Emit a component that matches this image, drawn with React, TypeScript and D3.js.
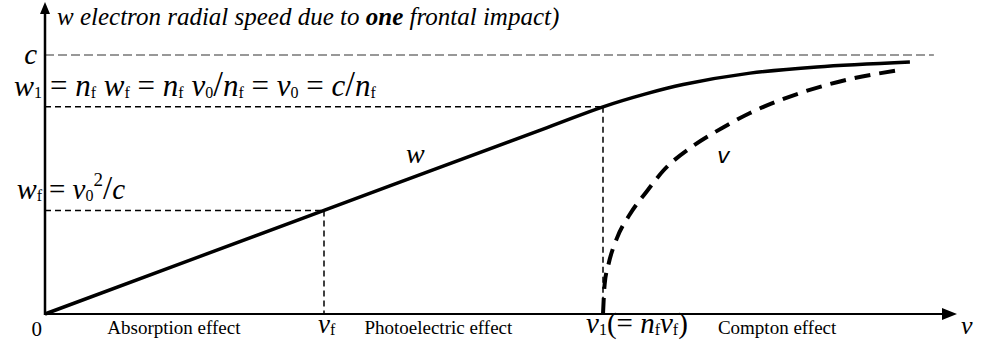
import React from 'react';
import * as d3 from 'd3';

// frequency units: nu_f = 1, nu_1 = n_f * nu_f = 2 ; speed units: c = 1
const nuF = 1;
const nu1 = 2;
const speedC = 1;
const speedW1 = 0.8;
const speedWf = 0.4;
const nuMaxC = 3.186;

const wPoints: [number, number][] = [
  [0, 0], [1, 0.4], [1.8, 0.72], [2, 0.8], [2.15, 0.849], [2.287, 0.886], [2.527, 0.93], [2.767, 0.954], [3.1, 0.973],
];
const vPoints: [number, number][] = [
  [2.0, 0], [2.006, 0.116], [2.02, 0.193], [2.05, 0.293], [2.097, 0.386], [2.158, 0.475], [2.215, 0.552],
  [2.323, 0.649], [2.409, 0.707], [2.527, 0.776], [2.706, 0.853], [2.885, 0.907], [3.065, 0.942],
];
const regionLabels = [
  { text: 'Absorption effect', nu: 0.462 },
  { text: 'Photoelectric effect', nu: 1.41 },
  { text: 'Compton effect', nu: 2.624 },
];

const serif = '"Liberation Serif", "Times New Roman", serif';

export default function App() {
  const x = d3.scaleLinear().domain([0, 1]).range([45, 324]);
  const y = d3.scaleLinear().domain([0, 1]).range([314, 55]);
  const line = d3.line<[number, number]>().x(d => x(d[0])).y(d => y(d[1])).curve(d3.curveCatmullRom.alpha(0.5));
  const vLine = d3.line<[number, number]>().x(d => x(d[0])).y(d => y(d[1])).curve(d3.curveMonotoneX);
  const x0 = x(0), y0 = y(0);
  const S = 16; // subscript size
  return (
    <svg width={986} height={343} style={{ position: 'absolute', left: 0, top: 0, background: '#fff' }}>
      {/* reference lines */}
      <line x1={x0} x2={x(nuMaxC)} y1={y(speedC)} y2={y(speedC)} stroke="#777" strokeWidth={1.3} strokeDasharray="9,4" />
      <line x1={x0} x2={x(nu1)} y1={y(speedW1)} y2={y(speedW1)} stroke="#000" strokeWidth={1.5} strokeDasharray="6,4" />
      <line x1={x0} x2={x(nuF)} y1={y(speedWf)} y2={y(speedWf)} stroke="#000" strokeWidth={1.5} strokeDasharray="6,4" />
      <line x1={x(nuF)} x2={x(nuF)} y1={y(speedWf)} y2={y0} stroke="#000" strokeWidth={1.5} strokeDasharray="6,4" />
      <line x1={x(nu1)} x2={x(nu1)} y1={y(speedW1)} y2={y0} stroke="#000" strokeWidth={1.5} strokeDasharray="6,4" />
      {/* curves */}
      <path d={line(wPoints) || ''} fill="none" stroke="#000" strokeWidth={3.5} />
      <path d={vLine(vPoints) || ''} fill="none" stroke="#000" strokeWidth={4} strokeDasharray="16,9" />
      {/* axes */}
      <line x1={x0} x2={x0} y1={y0 + 1} y2={12} stroke="#000" strokeWidth={2.5} />
      <polygon points={`${x0},2 ${x0 - 5},14 ${x0 + 5},14`} fill="#000" />
      <line x1={x0 - 1} x2={945} y1={y0} y2={y0} stroke="#000" strokeWidth={2} />
      <polygon points={`957,${y0} 942,${y0 - 6} 942,${y0 + 6}`} fill="#000" />

      {/* title */}
      <text x={57} y={25} fontFamily={serif} fontStyle="italic" fontSize={25}>
        w electron radial speed due to <tspan fontWeight="bold">one</tspan> frontal impact)
      </text>
      {/* y labels */}
      <text x={37} y={64} textAnchor="end" fontFamily={serif} fontStyle="italic" fontSize={29}>c</text>
      <text x={42} y={96} textAnchor="end" fontFamily={serif} fontStyle="italic" fontSize={30}>
        w<tspan fontStyle="normal" fontSize={S} dy={2}>1</tspan>
      </text>
      <text x={42} y={199} textAnchor="end" fontFamily={serif} fontStyle="italic" fontSize={30}>
        w<tspan fontStyle="normal" fontSize={S} dy={2}>f</tspan>
      </text>
      <text x={50} y={96} fontFamily={serif} fontSize={31}>
        <tspan>= </tspan>
        <tspan fontStyle="italic">n</tspan><tspan fontSize={S} dy={2}>f</tspan>
        <tspan dy={-2} fontStyle="italic"> w</tspan><tspan fontSize={S} dy={2}>f</tspan>
        <tspan dy={-2}> = </tspan>
        <tspan fontStyle="italic">n</tspan><tspan fontSize={S} dy={2}>f</tspan>
        <tspan dy={-2} fontStyle="italic"> v</tspan><tspan fontSize={S} dy={2}>0</tspan>
        <tspan dy={-2} fontSize={35}>/</tspan>
        <tspan fontStyle="italic">n</tspan><tspan fontSize={S} dy={2}>f</tspan>
        <tspan dy={-2}> = </tspan>
        <tspan fontStyle="italic">v</tspan><tspan fontSize={S} dy={2}>0</tspan>
        <tspan dy={-2}> = </tspan>
        <tspan fontStyle="italic">c</tspan>
        <tspan fontSize={35}>/</tspan>
        <tspan fontStyle="italic">n</tspan><tspan fontSize={S} dy={2}>f</tspan>
      </text>
      <text x={49} y={199} fontFamily={serif} fontSize={29}>
        <tspan>= </tspan>
        <tspan fontStyle="italic">v</tspan><tspan fontSize={S} dy={2}>0</tspan>
        <tspan fontSize={19} dy={-15}>2</tspan>
        <tspan dy={13} fontSize={33}>/</tspan>
        <tspan fontStyle="italic">c</tspan>
      </text>
      {/* curve labels */}
      <text x={406} y={163} fontFamily={serif} fontStyle="italic" fontSize={28}>w</text>
      <text x={717} y={163} fontFamily='"DejaVu Sans", sans-serif' fontStyle="italic" fontSize={22}>v</text>

      {/* x labels */}
      <text x={x0 - 3} y={336} textAnchor="end" fontFamily={serif} fontSize={21}>0</text>
      {regionLabels.map(r => (
        <text key={r.text} x={x(r.nu)} y={334} textAnchor="middle" fontFamily={serif} fontSize={19}>{r.text}</text>
      ))}
      <text x={x(nuF) - 6} y={333} fontFamily={serif} fontStyle="italic" fontSize={27}>
        ν<tspan fontStyle="normal" fontSize={S} dy={2}>f</tspan>
      </text>
      <text x={x(nu1) - 17} y={333} fontFamily={serif} fontSize={29}>
        <tspan fontStyle="italic">ν</tspan><tspan fontSize={S} dy={2}>1</tspan>
        <tspan dy={-2}>(= </tspan>
        <tspan fontStyle="italic">n</tspan><tspan fontSize={S} dy={2}>f</tspan>
        <tspan dy={-2} fontStyle="italic">ν</tspan><tspan fontSize={S} dy={2}>f</tspan>
        <tspan dy={-2}>)</tspan>
      </text>
      <text x={961} y={334} fontFamily={serif} fontStyle="italic" fontSize={26}>ν</text>
    </svg>
  );
}
